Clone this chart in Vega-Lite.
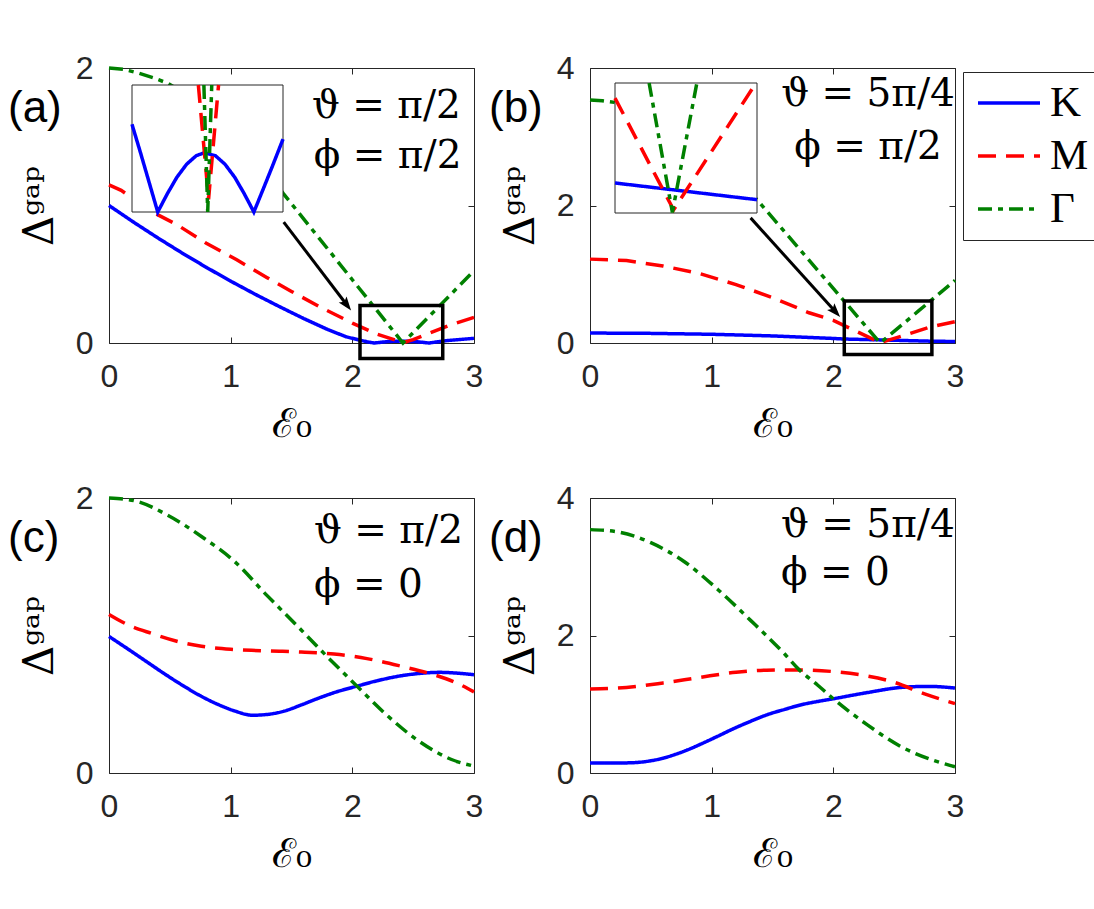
{
  "$schema": "https://vega.github.io/schema/vega-lite/v6.json",
  "padding": {"left": 7, "top": 51, "right": 4, "bottom": 4},
  "background": "white",
  "datasets": {
    "a": [
      {"E0": 0, "gap": 1.0, "point": "K"}, {"E0": 0.2, "gap": 0.88, "point": "K"}, {"E0": 0.4, "gap": 0.765, "point": "K"}, {"E0": 0.6, "gap": 0.655, "point": "K"}, {"E0": 0.8, "gap": 0.55, "point": "K"}, {"E0": 1.0, "gap": 0.45, "point": "K"}, {"E0": 1.2, "gap": 0.355, "point": "K"}, {"E0": 1.4, "gap": 0.265, "point": "K"}, {"E0": 1.6, "gap": 0.178, "point": "K"}, {"E0": 1.8, "gap": 0.097, "point": "K"}, {"E0": 1.95, "gap": 0.045, "point": "K"}, {"E0": 2.06, "gap": 0.021, "point": "K"}, {"E0": 2.12, "gap": 0.009, "point": "K"}, {"E0": 2.18, "gap": 0.0, "point": "K"}, {"E0": 2.3, "gap": 0.011, "point": "K"}, {"E0": 2.4, "gap": 0.014, "point": "K"}, {"E0": 2.52, "gap": 0.01, "point": "K"}, {"E0": 2.63, "gap": 0.0, "point": "K"}, {"E0": 2.77, "gap": 0.017, "point": "K"}, {"E0": 3.0, "gap": 0.034, "point": "K"},
      {"E0": 0, "gap": 1.15, "point": "M"}, {"E0": 0.1, "gap": 1.11, "point": "M"}, {"E0": 0.35, "gap": 0.955, "point": "M"}, {"E0": 0.55, "gap": 0.865, "point": "M"}, {"E0": 0.8, "gap": 0.725, "point": "M"}, {"E0": 1.05, "gap": 0.605, "point": "M"}, {"E0": 1.3, "gap": 0.475, "point": "M"}, {"E0": 1.5, "gap": 0.375, "point": "M"}, {"E0": 1.75, "gap": 0.255, "point": "M"}, {"E0": 2.0, "gap": 0.145, "point": "M"}, {"E0": 2.2, "gap": 0.065, "point": "M"}, {"E0": 2.35, "gap": 0.022, "point": "M"}, {"E0": 2.42, "gap": 0.003, "point": "M"}, {"E0": 2.5, "gap": 0.025, "point": "M"}, {"E0": 2.6, "gap": 0.06, "point": "M"}, {"E0": 2.8, "gap": 0.13, "point": "M"}, {"E0": 3.0, "gap": 0.186, "point": "M"},
      {"E0": 0, "gap": 2.0, "point": "Γ"}, {"E0": 0.12, "gap": 1.99, "point": "Γ"}, {"E0": 0.24, "gap": 1.964, "point": "Γ"}, {"E0": 0.36, "gap": 1.93, "point": "Γ"}, {"E0": 0.48, "gap": 1.89, "point": "Γ"}, {"E0": 0.75, "gap": 1.75, "point": "Γ"}, {"E0": 1.0, "gap": 1.56, "point": "Γ"}, {"E0": 1.2, "gap": 1.36, "point": "Γ"}, {"E0": 1.43, "gap": 1.09, "point": "Γ"}, {"E0": 1.7, "gap": 0.792, "point": "Γ"}, {"E0": 2.0, "gap": 0.46, "point": "Γ"}, {"E0": 2.2, "gap": 0.239, "point": "Γ"}, {"E0": 2.416, "gap": 0.0, "point": "Γ"}, {"E0": 2.6, "gap": 0.166, "point": "Γ"}, {"E0": 2.8, "gap": 0.345, "point": "Γ"}, {"E0": 3.0, "gap": 0.525, "point": "Γ"}
    ],
    "aZoom": [
      {"E0": 2.06, "gap": 0.0207, "point": "K"}, {"E0": 2.1, "gap": 0.014, "point": "K"}, {"E0": 2.14, "gap": 0.0071, "point": "K"}, {"E0": 2.181, "gap": 0.0, "point": "K"}, {"E0": 2.226, "gap": 0.0043, "point": "K"}, {"E0": 2.271, "gap": 0.0082, "point": "K"}, {"E0": 2.317, "gap": 0.0113, "point": "K"}, {"E0": 2.362, "gap": 0.0133, "point": "K"}, {"E0": 2.4, "gap": 0.014, "point": "K"}, {"E0": 2.452, "gap": 0.0133, "point": "K"}, {"E0": 2.497, "gap": 0.0113, "point": "K"}, {"E0": 2.543, "gap": 0.0082, "point": "K"}, {"E0": 2.588, "gap": 0.0043, "point": "K"}, {"E0": 2.633, "gap": 0.0, "point": "K"}, {"E0": 2.68, "gap": 0.0058, "point": "K"}, {"E0": 2.72, "gap": 0.0108, "point": "K"}, {"E0": 2.77, "gap": 0.0172, "point": "K"},
      {"E0": 2.372, "gap": 0.03, "point": "M"}, {"E0": 2.42, "gap": 0.003, "point": "M"}, {"E0": 2.467, "gap": 0.03, "point": "M"},
      {"E0": 2.398, "gap": 0.03, "point": "Γ"}, {"E0": 2.416, "gap": 0.0, "point": "Γ"}, {"E0": 2.435, "gap": 0.03, "point": "Γ"}
    ],
    "b": [
      {"E0": 0, "gap": 0.145, "point": "K"}, {"E0": 0.5, "gap": 0.14, "point": "K"}, {"E0": 1.0, "gap": 0.127, "point": "K"}, {"E0": 1.5, "gap": 0.103, "point": "K"}, {"E0": 2.0, "gap": 0.066, "point": "K"}, {"E0": 2.09, "gap": 0.058, "point": "K"}, {"E0": 2.5, "gap": 0.04, "point": "K"}, {"E0": 2.81, "gap": 0.026, "point": "K"}, {"E0": 3.0, "gap": 0.022, "point": "K"},
      {"E0": 0, "gap": 1.22, "point": "M"}, {"E0": 0.3, "gap": 1.2, "point": "M"}, {"E0": 0.6, "gap": 1.12, "point": "M"}, {"E0": 0.9, "gap": 1.01, "point": "M"}, {"E0": 1.2, "gap": 0.85, "point": "M"}, {"E0": 1.5, "gap": 0.66, "point": "M"}, {"E0": 1.8, "gap": 0.44, "point": "M"}, {"E0": 2.0, "gap": 0.33, "point": "M"}, {"E0": 2.2, "gap": 0.16, "point": "M"}, {"E0": 2.387, "gap": 0.005, "point": "M"}, {"E0": 2.6, "gap": 0.12, "point": "M"}, {"E0": 2.8, "gap": 0.235, "point": "M"}, {"E0": 3.0, "gap": 0.31, "point": "M"},
      {"E0": 0, "gap": 3.535, "point": "Γ"}, {"E0": 0.1, "gap": 3.525, "point": "Γ"}, {"E0": 0.2, "gap": 3.5, "point": "Γ"}, {"E0": 0.5, "gap": 3.33, "point": "Γ"}, {"E0": 0.75, "gap": 3.07, "point": "Γ"}, {"E0": 1.0, "gap": 2.75, "point": "Γ"}, {"E0": 1.2, "gap": 2.44, "point": "Γ"}, {"E0": 1.375, "gap": 2.08, "point": "Γ"}, {"E0": 1.8, "gap": 1.205, "point": "Γ"}, {"E0": 2.2, "gap": 0.381, "point": "Γ"}, {"E0": 2.385, "gap": 0.0, "point": "Γ"}, {"E0": 2.7, "gap": 0.466, "point": "Γ"}, {"E0": 3.0, "gap": 0.91, "point": "Γ"}
    ],
    "bZoom": [
      {"E0": 2.09, "gap": 0.0577, "point": "K"}, {"E0": 2.45, "gap": 0.0417, "point": "K"}, {"E0": 2.81, "gap": 0.0256, "point": "K"},
      {"E0": 2.09, "gap": 0.221, "point": "M"}, {"E0": 2.387, "gap": 0.006, "point": "M"}, {"E0": 2.805, "gap": 0.25, "point": "M"},
      {"E0": 2.263, "gap": 0.25, "point": "Γ"}, {"E0": 2.381, "gap": 0.001, "point": "Γ"}, {"E0": 2.505, "gap": 0.25, "point": "Γ"}
    ],
    "c": [
      {"E0": 0, "gap": 0.993, "point": "K"}, {"E0": 0.15, "gap": 0.905, "point": "K"}, {"E0": 0.3, "gap": 0.815, "point": "K"}, {"E0": 0.45, "gap": 0.725, "point": "K"}, {"E0": 0.6, "gap": 0.64, "point": "K"}, {"E0": 0.75, "gap": 0.562, "point": "K"}, {"E0": 0.9, "gap": 0.497, "point": "K"}, {"E0": 1.03, "gap": 0.452, "point": "K"}, {"E0": 1.18, "gap": 0.42, "point": "K"}, {"E0": 1.32, "gap": 0.428, "point": "K"}, {"E0": 1.44, "gap": 0.45, "point": "K"}, {"E0": 1.58, "gap": 0.495, "point": "K"}, {"E0": 1.71, "gap": 0.54, "point": "K"}, {"E0": 1.87, "gap": 0.59, "point": "K"}, {"E0": 2.04, "gap": 0.632, "point": "K"}, {"E0": 2.2, "gap": 0.67, "point": "K"}, {"E0": 2.4, "gap": 0.707, "point": "K"}, {"E0": 2.55, "gap": 0.724, "point": "K"}, {"E0": 2.72, "gap": 0.732, "point": "K"}, {"E0": 2.85, "gap": 0.727, "point": "K"}, {"E0": 3.0, "gap": 0.715, "point": "K"},
      {"E0": 0, "gap": 1.153, "point": "M"}, {"E0": 0.15, "gap": 1.08, "point": "M"}, {"E0": 0.35, "gap": 1.015, "point": "M"}, {"E0": 0.55, "gap": 0.96, "point": "M"}, {"E0": 0.76, "gap": 0.922, "point": "M"}, {"E0": 1.0, "gap": 0.9, "point": "M"}, {"E0": 1.17, "gap": 0.892, "point": "M"}, {"E0": 1.4, "gap": 0.886, "point": "M"}, {"E0": 1.58, "gap": 0.88, "point": "M"}, {"E0": 1.85, "gap": 0.865, "point": "M"}, {"E0": 2.12, "gap": 0.832, "point": "M"}, {"E0": 2.4, "gap": 0.777, "point": "M"}, {"E0": 2.67, "gap": 0.715, "point": "M"}, {"E0": 2.85, "gap": 0.658, "point": "M"}, {"E0": 3.0, "gap": 0.59, "point": "M"},
      {"E0": 0, "gap": 2.0, "point": "Γ"}, {"E0": 0.21, "gap": 1.98, "point": "Γ"}, {"E0": 0.48, "gap": 1.876, "point": "Γ"}, {"E0": 0.76, "gap": 1.72, "point": "Γ"}, {"E0": 1.03, "gap": 1.54, "point": "Γ"}, {"E0": 1.3, "gap": 1.29, "point": "Γ"}, {"E0": 1.58, "gap": 1.04, "point": "Γ"}, {"E0": 1.75, "gap": 0.885, "point": "Γ"}, {"E0": 2.04, "gap": 0.63, "point": "Γ"}, {"E0": 2.26, "gap": 0.44, "point": "Γ"}, {"E0": 2.54, "gap": 0.236, "point": "Γ"}, {"E0": 2.81, "gap": 0.1, "point": "Γ"}, {"E0": 3.0, "gap": 0.05, "point": "Γ"}
    ],
    "d": [
      {"E0": 0, "gap": 0.144, "point": "K"}, {"E0": 0.2, "gap": 0.144, "point": "K"}, {"E0": 0.3, "gap": 0.147, "point": "K"}, {"E0": 0.4, "gap": 0.155, "point": "K"}, {"E0": 0.5, "gap": 0.178, "point": "K"}, {"E0": 0.6, "gap": 0.215, "point": "K"}, {"E0": 0.7, "gap": 0.27, "point": "K"}, {"E0": 0.8, "gap": 0.335, "point": "K"}, {"E0": 0.91, "gap": 0.42, "point": "K"}, {"E0": 1.05, "gap": 0.535, "point": "K"}, {"E0": 1.18, "gap": 0.645, "point": "K"}, {"E0": 1.32, "gap": 0.752, "point": "K"}, {"E0": 1.46, "gap": 0.85, "point": "K"}, {"E0": 1.6, "gap": 0.925, "point": "K"}, {"E0": 1.73, "gap": 0.99, "point": "K"}, {"E0": 1.87, "gap": 1.04, "point": "K"}, {"E0": 2.0, "gap": 1.08, "point": "K"}, {"E0": 2.28, "gap": 1.17, "point": "K"}, {"E0": 2.56, "gap": 1.245, "point": "K"}, {"E0": 2.78, "gap": 1.26, "point": "K"}, {"E0": 3.0, "gap": 1.236, "point": "K"},
      {"E0": 0, "gap": 1.222, "point": "M"}, {"E0": 0.3, "gap": 1.245, "point": "M"}, {"E0": 0.6, "gap": 1.31, "point": "M"}, {"E0": 0.9, "gap": 1.39, "point": "M"}, {"E0": 1.2, "gap": 1.465, "point": "M"}, {"E0": 1.45, "gap": 1.495, "point": "M"}, {"E0": 1.7, "gap": 1.5, "point": "M"}, {"E0": 2.0, "gap": 1.475, "point": "M"}, {"E0": 2.25, "gap": 1.42, "point": "M"}, {"E0": 2.5, "gap": 1.32, "point": "M"}, {"E0": 2.75, "gap": 1.15, "point": "M"}, {"E0": 3.0, "gap": 1.01, "point": "M"},
      {"E0": 0, "gap": 3.54, "point": "Γ"}, {"E0": 0.22, "gap": 3.51, "point": "Γ"}, {"E0": 0.5, "gap": 3.35, "point": "Γ"}, {"E0": 0.77, "gap": 3.08, "point": "Γ"}, {"E0": 1.05, "gap": 2.67, "point": "Γ"}, {"E0": 1.32, "gap": 2.22, "point": "Γ"}, {"E0": 1.6, "gap": 1.73, "point": "Γ"}, {"E0": 1.72, "gap": 1.5, "point": "Γ"}, {"E0": 1.87, "gap": 1.28, "point": "Γ"}, {"E0": 2.0, "gap": 1.08, "point": "Γ"}, {"E0": 2.28, "gap": 0.7, "point": "Γ"}, {"E0": 2.56, "gap": 0.38, "point": "Γ"}, {"E0": 2.83, "gap": 0.18, "point": "Γ"}, {"E0": 3.0, "gap": 0.09, "point": "Γ"}
    ]
  },
  "columns": 2,
  "spacing": {"column": 116, "row": 155},
  "bounds": "flush",
  "resolve": {"legend": {"color": "independent", "strokeDash": "independent"}},
  "concat": [
    {
      "width": 365, "height": 275,
      "title": {"text": "(a)", "anchor": "start", "frame": "group", "orient": "top", "offset": 0, "dx": -101, "dy": 114, "baseline": "alphabetic", "font": "Liberation Sans", "fontSize": 44, "fontWeight": "normal", "color": "black"},
      "layer": [
        {
          "layer": [
            {
              "data": {"name": "a"},
              "mark": {"type": "line", "strokeWidth": 3.5},
              "encoding": {
                "x": {"field": "E0", "type": "quantitative", "scale": {"domain": [0, 3], "nice": false}, "axis": {"orient": "bottom", "values": [0, 1, 2, 3], "format": "d", "title": "ℰ₀"}},
                "y": {"field": "gap", "type": "quantitative", "scale": {"domain": [0, 2], "nice": false}, "axis": {"orient": "left", "values": [0, 1, 2], "format": "d", "title": "Δᵍᵃᵖ"}},
                "color": {"field": "point", "type": "nominal", "scale": {"domain": ["K", "M", "Γ"], "range": ["#0000ff", "#ff0000", "#008000"]}, "legend": null},
                "strokeDash": {"field": "point", "type": "nominal", "scale": {"domain": ["K", "M", "Γ"], "range": [[1, 0], [18, 10], [14, 6, 5, 6]]}, "legend": null}
              }
            },
            {
              "data": {"values": [{}]},
              "mark": {"type": "point", "opacity": 0},
              "encoding": {
                "x": {"datum": 0, "axis": {"orient": "top", "values": [0, 1, 2, 3], "labels": false, "title": null}},
                "y": {"datum": 0, "axis": {"orient": "right", "values": [0, 1, 2], "labels": false, "title": null}}
              }
            },
            {
              "data": {"values": [{}]},
              "mark": {"type": "rect", "filled": false, "color": "black", "strokeWidth": 3.5},
              "encoding": {"x": {"datum": 2.063, "axis": null}, "x2": {"datum": 2.743}, "y": {"datum": 0.273, "axis": null}, "y2": {"datum": -0.113}}
            },
            {
              "data": {"values": [{}]},
              "mark": {"type": "rule", "strokeWidth": 3, "color": "black"},
              "encoding": {"x": {"datum": 1.436, "axis": null}, "y": {"datum": 0.879, "axis": null}, "x2": {"datum": 1.96}, "y2": {"datum": 0.271}}
            },
            {
              "data": {"values": [{}]},
              "mark": {"type": "point", "shape": "M0,0L-0.7,2L0,1.6L0.7,2Z", "filled": true, "color": "black", "opacity": 1, "size": 196, "angle": 142.7, "strokeWidth": 0},
              "encoding": {"x": {"datum": 1.99, "axis": null}, "y": {"datum": 0.236, "axis": null}}
            },
            {
              "data": {"values": [{"label": "ϑ = π/2"}]},
              "mark": {"type": "text", "font": "DejaVu Serif", "fontSize": 39, "align": "center", "baseline": "alphabetic", "color": "black"},
              "encoding": {"text": {"field": "label"}, "x": {"datum": 2.28, "axis": null}, "y": {"datum": 1.64, "axis": null}}
            },
            {
              "data": {"values": [{"label": "ϕ = π/2"}]},
              "mark": {"type": "text", "font": "DejaVu Serif", "fontSize": 39, "align": "center", "baseline": "alphabetic", "color": "black"},
              "encoding": {"text": {"field": "label"}, "x": {"datum": 2.29, "axis": null}, "y": {"datum": 1.27, "axis": null}}
            }
          ],
          "resolve": {"axis": {"x": "independent", "y": "independent"}}
        },
        {
          "layer": [
            {
              "data": {"values": [{}]},
              "mark": {"type": "rect", "fill": "white", "stroke": "#262626", "strokeWidth": 1},
              "encoding": {
                "x": {"datum": 2.06, "scale": {"domain": [2.06, 2.77], "range": [23, 174], "nice": false, "zero": false}, "axis": null},
                "x2": {"datum": 2.77},
                "y": {"datum": 0, "scale": {"domain": [0, 0.03], "range": [144, 17], "nice": false, "zero": false}, "axis": null},
                "y2": {"datum": 0.03}
              }
            },
            {
              "data": {"name": "aZoom"},
              "mark": {"type": "line", "strokeWidth": 3.5},
              "encoding": {
                "x": {"field": "E0", "type": "quantitative", "axis": null},
                "y": {"field": "gap", "type": "quantitative", "axis": null},
                "color": {"field": "point", "type": "nominal", "scale": {"domain": ["K", "M", "Γ"], "range": ["#0000ff", "#ff0000", "#008000"]}, "legend": null},
                "strokeDash": {"field": "point", "type": "nominal", "scale": {"domain": ["K", "M", "Γ"], "range": [[1, 0], [18, 10], [14, 6, 5, 6]]}, "legend": null}
              }
            }
          ]
        }
      ],
      "resolve": {"scale": {"x": "independent", "y": "independent"}}
    },
    {
      "width": 365, "height": 275,
      "title": {"text": "(b)", "anchor": "start", "frame": "group", "orient": "top", "offset": 0, "dx": -101, "dy": 114, "baseline": "alphabetic", "font": "Liberation Sans", "fontSize": 44, "fontWeight": "normal", "color": "black"},
      "layer": [
        {
          "layer": [
            {
              "data": {"name": "b"},
              "mark": {"type": "line", "strokeWidth": 3.5},
              "encoding": {
                "x": {"field": "E0", "type": "quantitative", "scale": {"domain": [0, 3], "nice": false}, "axis": {"orient": "bottom", "values": [0, 1, 2, 3], "format": "d", "title": "ℰ₀"}},
                "y": {"field": "gap", "type": "quantitative", "scale": {"domain": [0, 4], "nice": false}, "axis": {"orient": "left", "values": [0, 2, 4], "format": "d", "title": "Δᵍᵃᵖ"}},
                "color": {"field": "point", "type": "nominal", "scale": {"domain": ["K", "M", "Γ"], "range": ["#0000ff", "#ff0000", "#008000"]}, "legend": {"orient": "none", "legendX": 373, "legendY": 4, "title": null}},
                "strokeDash": {"field": "point", "type": "nominal", "scale": {"domain": ["K", "M", "Γ"], "range": [[1, 0], [18, 10], [14, 6, 5, 6]]}, "legend": {"orient": "none", "legendX": 373, "legendY": 4, "title": null}}
              }
            },
            {
              "data": {"values": [{}]},
              "mark": {"type": "point", "opacity": 0},
              "encoding": {
                "x": {"datum": 0, "axis": {"orient": "top", "values": [0, 1, 2, 3], "labels": false, "title": null}},
                "y": {"datum": 0, "axis": {"orient": "right", "values": [0, 2, 4], "labels": false, "title": null}}
              }
            },
            {
              "data": {"values": [{}]},
              "mark": {"type": "rect", "filled": false, "color": "black", "strokeWidth": 3.5},
              "encoding": {"x": {"datum": 2.09, "axis": null}, "x2": {"datum": 2.81}, "y": {"datum": 0.61, "axis": null}, "y2": {"datum": -0.166}}
            },
            {
              "data": {"values": [{}]},
              "mark": {"type": "rule", "strokeWidth": 3, "color": "black"},
              "encoding": {"x": {"datum": 1.32, "axis": null}, "y": {"datum": 1.82, "axis": null}, "x2": {"datum": 2.023}, "y2": {"datum": 0.443}}
            },
            {
              "data": {"values": [{}]},
              "mark": {"type": "point", "shape": "M0,0L-0.7,2L0,1.6L0.7,2Z", "filled": true, "color": "black", "opacity": 1, "size": 196, "angle": 137.9, "strokeWidth": 0},
              "encoding": {"x": {"datum": 2.056, "axis": null}, "y": {"datum": 0.378, "axis": null}}
            },
            {
              "data": {"values": [{"label": "ϑ = 5π/4"}]},
              "mark": {"type": "text", "font": "DejaVu Serif", "fontSize": 39, "align": "center", "baseline": "alphabetic", "color": "black"},
              "encoding": {"text": {"field": "label"}, "x": {"datum": 2.285, "axis": null}, "y": {"datum": 3.45, "axis": null}}
            },
            {
              "data": {"values": [{"label": "ϕ = π/2"}]},
              "mark": {"type": "text", "font": "DejaVu Serif", "fontSize": 39, "align": "center", "baseline": "alphabetic", "color": "black"},
              "encoding": {"text": {"field": "label"}, "x": {"datum": 2.285, "axis": null}, "y": {"datum": 2.68, "axis": null}}
            }
          ],
          "resolve": {"axis": {"x": "independent", "y": "independent"}}
        },
        {
          "layer": [
            {
              "data": {"values": [{}]},
              "mark": {"type": "rect", "fill": "white", "stroke": "#262626", "strokeWidth": 1},
              "encoding": {
                "x": {"datum": 2.09, "scale": {"domain": [2.09, 2.81], "range": [25, 167], "nice": false, "zero": false}, "axis": null},
                "x2": {"datum": 2.81},
                "y": {"datum": 0, "scale": {"domain": [0, 0.25], "range": [145, 15], "nice": false, "zero": false}, "axis": null},
                "y2": {"datum": 0.25}
              }
            },
            {
              "data": {"name": "bZoom"},
              "mark": {"type": "line", "strokeWidth": 3.5},
              "encoding": {
                "x": {"field": "E0", "type": "quantitative", "axis": null},
                "y": {"field": "gap", "type": "quantitative", "axis": null},
                "color": {"field": "point", "type": "nominal", "scale": {"domain": ["K", "M", "Γ"], "range": ["#0000ff", "#ff0000", "#008000"]}, "legend": null},
                "strokeDash": {"field": "point", "type": "nominal", "scale": {"domain": ["K", "M", "Γ"], "range": [[1, 0], [18, 10], [14, 6, 5, 6]]}, "legend": null}
              }
            }
          ]
        }
      ],
      "resolve": {"scale": {"x": "independent", "y": "independent"}}
    },
    {
      "width": 365, "height": 275,
      "title": {"text": "(c)", "anchor": "start", "frame": "group", "orient": "top", "offset": 0, "dx": -101, "dy": 114, "baseline": "alphabetic", "font": "Liberation Sans", "fontSize": 44, "fontWeight": "normal", "color": "black"},
      "layer": [
        {
          "data": {"name": "c"},
          "mark": {"type": "line", "strokeWidth": 3.5, "interpolate": "monotone"},
          "encoding": {
            "x": {"field": "E0", "type": "quantitative", "scale": {"domain": [0, 3], "nice": false}, "axis": {"orient": "bottom", "values": [0, 1, 2, 3], "format": "d", "title": "ℰ₀"}},
            "y": {"field": "gap", "type": "quantitative", "scale": {"domain": [0, 2], "nice": false}, "axis": {"orient": "left", "values": [0, 1, 2], "format": "d", "title": "Δᵍᵃᵖ"}},
            "color": {"field": "point", "type": "nominal", "scale": {"domain": ["K", "M", "Γ"], "range": ["#0000ff", "#ff0000", "#008000"]}, "legend": null},
            "strokeDash": {"field": "point", "type": "nominal", "scale": {"domain": ["K", "M", "Γ"], "range": [[1, 0], [18, 10], [14, 6, 5, 6]]}, "legend": null}
          }
        },
        {
          "data": {"values": [{}]},
          "mark": {"type": "point", "opacity": 0},
          "encoding": {
            "x": {"datum": 0, "axis": {"orient": "top", "values": [0, 1, 2, 3], "labels": false, "title": null}},
            "y": {"datum": 0, "axis": {"orient": "right", "values": [0, 1, 2], "labels": false, "title": null}}
          }
        },
        {
          "data": {"values": [{"label": "ϑ = π/2"}]},
          "mark": {"type": "text", "font": "DejaVu Serif", "fontSize": 39, "align": "left", "baseline": "alphabetic", "color": "black"},
          "encoding": {"text": {"field": "label"}, "x": {"datum": 1.685, "axis": null}, "y": {"datum": 1.675, "axis": null}}
        },
        {
          "data": {"values": [{"label": "ϕ = 0"}]},
          "mark": {"type": "text", "font": "DejaVu Serif", "fontSize": 39, "align": "left", "baseline": "alphabetic", "color": "black"},
          "encoding": {"text": {"field": "label"}, "x": {"datum": 1.685, "axis": null}, "y": {"datum": 1.28, "axis": null}}
        }
      ],
      "resolve": {"axis": {"x": "independent", "y": "independent"}}
    },
    {
      "width": 365, "height": 275,
      "title": {"text": "(d)", "anchor": "start", "frame": "group", "orient": "top", "offset": 0, "dx": -101, "dy": 114, "baseline": "alphabetic", "font": "Liberation Sans", "fontSize": 44, "fontWeight": "normal", "color": "black"},
      "layer": [
        {
          "data": {"name": "d"},
          "mark": {"type": "line", "strokeWidth": 3.5, "interpolate": "monotone"},
          "encoding": {
            "x": {"field": "E0", "type": "quantitative", "scale": {"domain": [0, 3], "nice": false}, "axis": {"orient": "bottom", "values": [0, 1, 2, 3], "format": "d", "title": "ℰ₀"}},
            "y": {"field": "gap", "type": "quantitative", "scale": {"domain": [0, 4], "nice": false}, "axis": {"orient": "left", "values": [0, 2, 4], "format": "d", "title": "Δᵍᵃᵖ"}},
            "color": {"field": "point", "type": "nominal", "scale": {"domain": ["K", "M", "Γ"], "range": ["#0000ff", "#ff0000", "#008000"]}, "legend": null},
            "strokeDash": {"field": "point", "type": "nominal", "scale": {"domain": ["K", "M", "Γ"], "range": [[1, 0], [18, 10], [14, 6, 5, 6]]}, "legend": null}
          }
        },
        {
          "data": {"values": [{}]},
          "mark": {"type": "point", "opacity": 0},
          "encoding": {
            "x": {"datum": 0, "axis": {"orient": "top", "values": [0, 1, 2, 3], "labels": false, "title": null}},
            "y": {"datum": 0, "axis": {"orient": "right", "values": [0, 2, 4], "labels": false, "title": null}}
          }
        },
        {
          "data": {"values": [{"label": "ϑ = 5π/4"}]},
          "mark": {"type": "text", "font": "DejaVu Serif", "fontSize": 39, "align": "left", "baseline": "alphabetic", "color": "black"},
          "encoding": {"text": {"field": "label"}, "x": {"datum": 1.57, "axis": null}, "y": {"datum": 3.44, "axis": null}}
        },
        {
          "data": {"values": [{"label": "ϕ = 0"}]},
          "mark": {"type": "text", "font": "DejaVu Serif", "fontSize": 39, "align": "left", "baseline": "alphabetic", "color": "black"},
          "encoding": {"text": {"field": "label"}, "x": {"datum": 1.57, "axis": null}, "y": {"datum": 2.74, "axis": null}}
        }
      ],
      "resolve": {"axis": {"x": "independent", "y": "independent"}}
    }
  ],
  "config": {
    "view": {"stroke": "#262626", "strokeWidth": 1},
    "axis": {"domain": false, "grid": false, "tickSize": -6, "tickColor": "#262626", "tickWidth": 1, "labelFont": "Liberation Sans", "labelFontSize": 32, "labelColor": "#262626", "labelFlush": false, "labelOverlap": false, "titleFont": "DejaVu Serif", "titleFontWeight": "normal", "titleColor": "black"},
    "axisX": {"labelPadding": 24, "titleFontSize": 40, "titlePadding": 12},
    "axisY": {"labelPadding": 22, "titleFontSize": 42, "titlePadding": 14},
    "legend": {"symbolType": "stroke", "symbolSize": 3844, "symbolStrokeWidth": 3.5, "clipHeight": 44, "rowPadding": 9, "padding": 9, "symbolOffset": 4, "labelOffset": 8, "labelFont": "Liberation Serif", "labelFontSize": 43, "labelColor": "black", "strokeColor": "#262626", "fillColor": "white"}
  }
}
